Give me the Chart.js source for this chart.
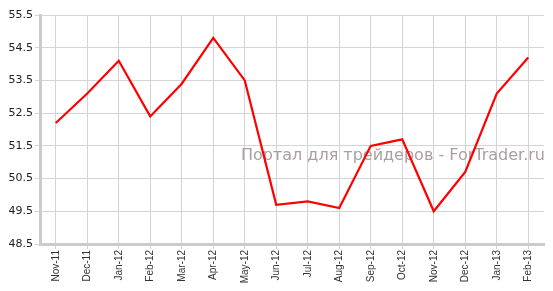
<!DOCTYPE html>
<html>
<head>
<meta charset="utf-8">
<script src="https://cdn.jsdelivr.net/npm/chart.js@4"></script>
<style>
  html, body { margin: 0; padding: 0; background: #fff; }
  #wrap { width: 553px; height: 291px; }
</style>
</head>
<body>
<div id="wrap"><canvas id="pmi-chart" width="553" height="291"></canvas></div>
<script>
// месяцы и значения индекса
const months = ['Nov-11', 'Dec-11', 'Jan-12', 'Feb-12', 'Mar-12', 'Apr-12', 'May-12', 'Jun-12',
                'Jul-12', 'Aug-12', 'Sep-12', 'Oct-12', 'Nov-12', 'Dec-12', 'Jan-13', 'Feb-13'];
const values = [52.2, 53.1, 54.1, 52.4, 53.4, 54.8, 53.5, 49.7,
                49.8, 49.6, 51.5, 51.7, 49.5, 50.7, 53.1, 54.2];
const yMin = 48.5;
const yMax = 55.5;
const watermark = 'Портал для трейдеров - ForTrader.ru';

const watermarkPlugin = {
    id: 'watermark',
    beforeDatasetsDraw(chart) {
        const c = chart.ctx;
        c.save();
        c.font = '16px "DejaVu Sans", Verdana, sans-serif';
        c.fillStyle = '#aaa0a0';
        c.textAlign = 'right';
        c.textBaseline = 'middle';
        c.fillText(watermark, chart.chartArea.right + 1, 156);
        c.restore();
    }
};

new Chart(document.getElementById('pmi-chart').getContext('2d'), {
    type: 'line',
    data: {
        labels: months,
        datasets: [{
            data: values,
            borderColor: '#ff0000',
            borderWidth: 2.2,
            pointRadius: 0,
            tension: 0,
            fill: false,
        }]
    },
    options: {
        responsive: false,
        animation: false,
        layout: { padding: { top: 15, right: 9, left: 0, bottom: 0 } },
        scales: {
            x: {
                offset: true,
                afterFit: s => { s.height = 47; },
                border: { color: '#cccccc', width: 3 },
                grid: { color: '#d4d4d4', lineWidth: 1, tickLength: 5 },
                ticks: {
                    color: '#333',
                    minRotation: 90, maxRotation: 90,
                    autoSkip: false,
                    padding: 1,
                    font: { family: '"Liberation Sans", Arial, sans-serif', size: 10 }
                }
            },
            y: {
                min: yMin, max: yMax,
                afterFit: s => { s.width = 40; },
                border: { color: '#cccccc', width: 3 },
                grid: { color: '#d4d4d4', lineWidth: 1, tickLength: 5 },
                ticks: {
                    stepSize: 1,
                    color: '#222',
                    padding: 2,
                    font: { family: '"DejaVu Sans", Verdana, sans-serif', size: 11 },
                    callback: v => v.toFixed(1)
                }
            }
        },
        plugins: { legend: { display: false }, tooltip: { enabled: false } }
    },
    plugins: [watermarkPlugin]
});
</script>
</body>
</html>
